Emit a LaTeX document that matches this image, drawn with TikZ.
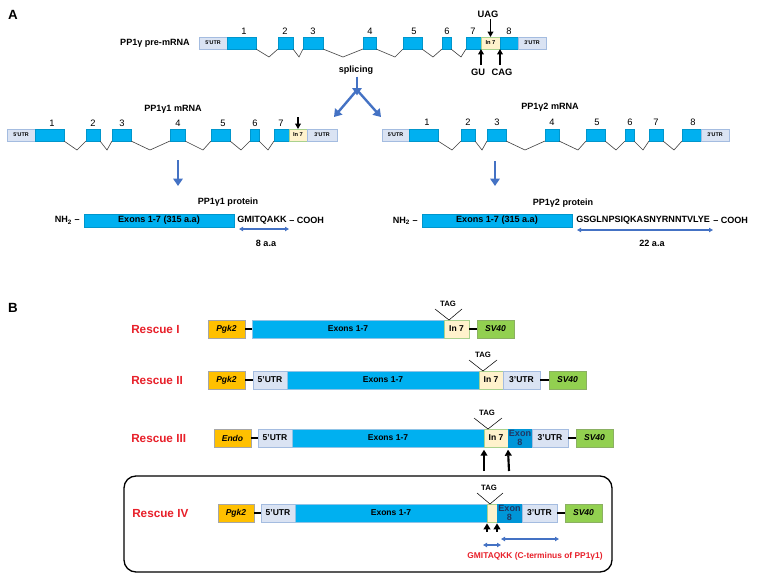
\documentclass[tikz,border=0pt]{standalone}
\usepackage{fontspec}
\setmainfont{Liberation Sans}
\usetikzlibrary{arrows.meta}
\definecolor{exblue}{HTML}{00B0F0}
\definecolor{exline}{HTML}{8FC3E6}
\definecolor{utrfill}{HTML}{DAE3F3}
\definecolor{utrline}{HTML}{A4BCE0}
\definecolor{infill}{HTML}{FFF2CC}
\definecolor{inline}{HTML}{A9D18E}
\definecolor{pgk}{HTML}{FFC000}
\definecolor{svg}{HTML}{92D050}
\definecolor{ex8}{HTML}{0096D8}
\definecolor{arrblue}{HTML}{4472C4}
\definecolor{resred}{HTML}{E8202A}
\definecolor{navy}{HTML}{1F3864}
\definecolor{intronc}{HTML}{404040}
\newcommand\bx[7]{\node[#2, minimum width={(#5-#3)*0.75pt}, minimum height={(#6-#4)*0.75pt}] (#1) at (#3,#4) {#7};}
\tikzset{
 box/.style={anchor=north west, inner sep=0pt, outer sep=0pt, align=center},
 exon/.style={box, fill=exblue, draw=exblue!85!black, line width=0.3pt},
 utr/.style={box, fill=utrfill, draw=utrline, line width=0.5pt, font=\fontsize{4}{4}\selectfont\bfseries},
 intr/.style={box, fill=infill, draw=inline, line width=0.5pt, font=\fontsize{4.3}{4.3}\selectfont\bfseries},
 num/.style={inner sep=0pt, font=\fontsize{7}{7}\selectfont},
 ttl/.style={inner sep=0pt, font=\fontsize{6.8}{8}\selectfont\bfseries},
 big/.style={inner sep=0pt, font=\fontsize{7}{8}\selectfont\bfseries},
 lett/.style={inner sep=0pt, font=\fontsize{10}{10}\selectfont\bfseries},
 intron/.style={draw=intronc, line width=0.45pt},
 blarrow/.style={draw=arrblue, line width=1.8pt, -{Triangle[width=7pt,length=5.5pt]}},
 karrow/.style={draw=black, line width=1.1pt, -{Triangle[width=4.2pt,length=4pt]}},
 dblarrow/.style={draw=arrblue, line width=0.8pt, {Triangle[width=3.2pt,length=3pt]}-{Triangle[width=3.2pt,length=3pt]}},
 prot/.style={box, fill=exblue, draw=exblue!85!black, line width=0.3pt, font=\fontsize{6.8}{8}\selectfont\bfseries},
 bbox/.style={box, line width=0.6pt, font=\fontsize{6.4}{7}\selectfont\bfseries},
 bexon/.style={bbox, fill=exblue, draw=exline},
 butr/.style={bbox, fill=utrfill, draw=utrline},
 bin/.style={bbox, fill=infill, draw=inline},
 bprom/.style={bbox, fill=pgk, draw=gray!70, font=\fontsize{6.4}{7}\selectfont\bfseries\itshape},
 bsv/.style={bbox, fill=svg, draw=svg!60!gray, font=\fontsize{6.4}{7}\selectfont\bfseries\itshape},
 bex8/.style={bbox, fill=ex8, draw=ex8, text=navy, font=\fontsize{6.8}{7}\selectfont\bfseries},
 link/.style={draw=black, line width=1.5pt},
 resc/.style={anchor=west, inner sep=0pt, text=resred, font=\fontsize{8.8}{9}\selectfont\bfseries},
 redtxt/.style={inner sep=0pt, text=resred, font=\fontsize{6.3}{7}\selectfont\bfseries},
 tag/.style={inner sep=0pt, font=\fontsize{5.8}{6}\selectfont\bfseries},
 tagv/.style={draw=black, line width=0.4pt},
 upar/.style={draw=black, line width=1.6pt, -{Triangle[width=5pt,length=4.5pt]}},
}
\begin{document}
\begin{tikzpicture}[x=0.75pt,y=-0.75pt]
\fill[white] (0,0) rectangle (758,582);
\useasboundingbox (0,0) rectangle (758,582);
% ---------------- A ----------------
\node[lett] (la) at (13,15) {A};
% pre-mRNA
\node[ttl, anchor=east] (pre) at (190,43) {PP1γ pre-mRNA};
\bx{pu5}{utr}{199}{37}{227}{49}{5'UTR}
\bx{p1}{exon}{227}{37}{256}{49}{}
\bx{p2}{exon}{278}{37}{293}{49}{}
\bx{p3}{exon}{303}{37}{323}{49}{}
\bx{p4}{exon}{363}{37}{376}{49}{}
\bx{p5}{exon}{403}{37}{422}{49}{}
\bx{p6}{exon}{442}{37}{451}{49}{}
\bx{p7}{exon}{466}{37}{481}{49}{}
\bx{pi7}{intr}{481}{37}{500}{49}{In 7}
\bx{p8}{exon}{500}{37}{518}{49}{}
\bx{pu3}{utr}{518}{37}{546}{49}{3'UTR}
\coordinate (pv1) at (269,57);
\coordinate (pv2) at (299,57);
\coordinate (pv3) at (343,57);
\coordinate (pv4) at (395,57);
\coordinate (pv5) at (433,57);
\coordinate (pv6) at (461,57);
\draw[intron] (p1.south east) -- (pv1) -- (p2.south west);
\draw[intron] (p2.south east) -- (pv2) -- (p3.south west);
\draw[intron] (p3.south east) -- (pv3) -- (p4.south west);
\draw[intron] (p4.south east) -- (pv4) -- (p5.south west);
\draw[intron] (p5.south east) -- (pv5) -- (p6.south west);
\draw[intron] (p6.south east) -- (pv6) -- (p7.south west);
\node[num] (pn1) at (244,31) {1};
\node[num] (pn2) at (285,31) {2};
\node[num] (pn3) at (313,31) {3};
\node[num] (pn4) at (370,31) {4};
\node[num] (pn5) at (414,31) {5};
\node[num] (pn6) at (447,31) {6};
\node[num] (pn7) at (473,31) {7};
\node[num] (pn8) at (509,31) {8};
\node[big] (uag) at (488,14) {UAG};
\draw[karrow] ([yshift=-1pt]uag.south -| pi7.north) -- (pi7.north);
\node[big] (gu) at (478,72) {GU};
\node[big] (cag) at (502,72) {CAG};
\draw[karrow] ([yshift=2.5pt]gu.north -| pi7.south west) -- (pi7.south west);
\draw[karrow] ([yshift=2.5pt]cag.north -| pi7.south east) -- (pi7.south east);
% splicing
\node[ttl] (spl) at (356,70) {splicing};
\coordinate (sj) at (357,90);
\coordinate (sl) at (334,117);
\coordinate (sr) at (381,117);
\draw[blarrow] ([yshift=-1.5pt]spl.south -| sj) -- ([yshift=-4pt]sj);
\draw[blarrow] (sj) -- (sl);
\draw[blarrow] (sj) -- (sr);
% PP1g1 mRNA
\node[ttl] (m1t) at (173,109) {PP1γ1 mRNA};
\bx{au5}{utr}{7}{129}{35}{141}{5'UTR}
\bx{a1}{exon}{35}{129}{64}{141}{}
\bx{a2}{exon}{86}{129}{100}{141}{}
\bx{a3}{exon}{112}{129}{131}{141}{}
\bx{a4}{exon}{170}{129}{185}{141}{}
\bx{a5}{exon}{211}{129}{230}{141}{}
\bx{a6}{exon}{250}{129}{259}{141}{}
\bx{a7}{exon}{274}{129}{289}{141}{}
\bx{ai7}{intr}{289}{129}{307}{141}{In 7}
\bx{au3}{utr}{307}{129}{337}{141}{3'UTR}
\coordinate (av1) at (77,150);
\coordinate (av2) at (107,150);
\coordinate (av3) at (150,150);
\coordinate (av4) at (203,150);
\coordinate (av5) at (241,150);
\coordinate (av6) at (268,150);
\draw[intron] (a1.south east) -- (av1) -- (a2.south west);
\draw[intron] (a2.south east) -- (av2) -- (a3.south west);
\draw[intron] (a3.south east) -- (av3) -- (a4.south west);
\draw[intron] (a4.south east) -- (av4) -- (a5.south west);
\draw[intron] (a5.south east) -- (av5) -- (a6.south west);
\draw[intron] (a6.south east) -- (av6) -- (a7.south west);
\node[num] (an1) at (52,123) {1};
\node[num] (an2) at (93,123) {2};
\node[num] (an3) at (122,123) {3};
\node[num] (an4) at (178,123) {4};
\node[num] (an5) at (223,123) {5};
\node[num] (an6) at (255,123) {6};
\node[num] (an7) at (281,123) {7};
\coordinate (ak) at (298,117);
\draw[karrow] (ak) -- (ai7.north);
% PP1g2 mRNA
\node[ttl] (m2t) at (550,107) {PP1γ2 mRNA};
\bx{bu5}{utr}{382}{129}{409}{141}{5'UTR}
\bx{c1}{exon}{409}{129}{438}{141}{}
\bx{c2}{exon}{461}{129}{475}{141}{}
\bx{c3}{exon}{487}{129}{506}{141}{}
\bx{c4}{exon}{545}{129}{559}{141}{}
\bx{c5}{exon}{586}{129}{605}{141}{}
\bx{c6}{exon}{625}{129}{634}{141}{}
\bx{c7}{exon}{649}{129}{663}{141}{}
\bx{c8}{exon}{682}{129}{701}{141}{}
\bx{bu3}{utr}{701}{129}{729}{141}{3'UTR}
\coordinate (cv1) at (452,150);
\coordinate (cv2) at (482,150);
\coordinate (cv3) at (525,150);
\coordinate (cv4) at (578,150);
\coordinate (cv5) at (616,150);
\coordinate (cv6) at (643,150);
\coordinate (cv7) at (674,150);
\draw[intron] (c1.south east) -- (cv1) -- (c2.south west);
\draw[intron] (c2.south east) -- (cv2) -- (c3.south west);
\draw[intron] (c3.south east) -- (cv3) -- (c4.south west);
\draw[intron] (c4.south east) -- (cv4) -- (c5.south west);
\draw[intron] (c5.south east) -- (cv5) -- (c6.south west);
\draw[intron] (c6.south east) -- (cv6) -- (c7.south west);
\draw[intron] (c7.south east) -- (cv7) -- (c8.south west);
\node[num] (cn1) at (427,122) {1};
\node[num] (cn2) at (468,122) {2};
\node[num] (cn3) at (497,122) {3};
\node[num] (cn4) at (552,122) {4};
\node[num] (cn5) at (597,122) {5};
\node[num] (cn6) at (630,122) {6};
\node[num] (cn7) at (656,122) {7};
\node[num] (cn8) at (693,122) {8};
% arrows to proteins
\coordinate (d1s) at (178,160);
\coordinate (d1e) at (178,186);
\coordinate (d2s) at (495,161);
\coordinate (d2e) at (495,186);
\draw[blarrow] (d1s) -- (d1e);
\draw[blarrow] (d2s) -- (d2e);
% protein 1
\node[ttl] (pr1t) at (228,202) {PP1γ1 protein};
\bx{pr1}{prot}{84}{214}{234}{227}{Exons 1-7 (315 a.a)}
\node[ttl, anchor=east] (nh1) at (80,220.5) {NH\textsubscript{2} –};
\node[ttl, anchor=west] (sq1) at (237,220) {GMITQAKK};
\node[ttl, anchor=west] (co1) at (289,220) {– COOH};
\coordinate (e1a) at (239,229);
\coordinate (e1b) at (289,229);
\draw[dblarrow] (e1a) -- (e1b);
\node[ttl] (aa1) at (266,243) {8 a.a};
% protein 2
\node[ttl] (pr2t) at (563,203) {PP1γ2 protein};
\bx{pr2}{prot}{422}{214}{572}{227}{Exons 1-7 (315 a.a)}
\node[ttl, anchor=east] (nh2) at (418,221) {NH\textsubscript{2} –};
\node[ttl, anchor=west] (sq2) at (576,220) {GSGLNPSIQKASNYRNNTVLYE};
\node[ttl, anchor=west] (co2) at (713,220) {– COOH};
\coordinate (e2a) at (577,230);
\coordinate (e2b) at (713,230);
\draw[dblarrow] (e2a) -- (e2b);
\node[ttl] (aa2) at (652,243) {22 a.a};
% ---------------- B ----------------
\node[lett] (lb) at (13,308) {B};
% Rescue I
\node[resc] (r1) at (131,330) {Rescue I};
\bx{b1p}{bprom}{208}{320}{245}{338}{Pgk2}
\bx{b1e}{bexon}{252}{320}{444}{338}{Exons 1-7}
\bx{b1i}{bin}{444}{320}{469}{338}{In 7}
\bx{b1s}{bsv}{477}{320}{514}{338}{SV40}
\draw[link] (b1p) -- (b1e);
\draw[link] (b1i) -- (b1s);
\node[tag] (t1) at (448,304) {TAG};
\coordinate (t1l) at (435,309);
\coordinate (t1a) at (449,320);
\coordinate (t1r) at (462,309);
\draw[tagv] (t1l) -- (t1a) -- (t1r);
% Rescue II
\node[resc] (r2) at (131,381) {Rescue II};
\bx{b2p}{bprom}{208}{371}{245}{389}{Pgk2}
\bx{b2u5}{butr}{253}{371}{287}{389}{5'UTR}
\bx{b2e}{bexon}{287}{371}{479}{389}{Exons 1-7}
\bx{b2i}{bin}{479}{371}{503}{389}{In 7}
\bx{b2u3}{butr}{503}{371}{540}{389}{3'UTR}
\bx{b2s}{bsv}{549}{371}{586}{389}{SV40}
\draw[link] (b2p) -- (b2u5);
\draw[link] (b2u3) -- (b2s);
\node[tag] (t2) at (483,355) {TAG};
\coordinate (t2l) at (469,360);
\coordinate (t2a) at (483,371);
\coordinate (t2r) at (497,360);
\draw[tagv] (t2l) -- (t2a) -- (t2r);
% Rescue III
\node[resc] (r3) at (131,439) {Rescue III};
\bx{b3p}{bprom}{214}{429}{251}{447}{Endo}
\bx{b3u5}{butr}{258}{429}{292}{447}{5'UTR}
\bx{b3e}{bexon}{292}{429}{484}{447}{Exons 1-7}
\bx{b3i}{bin}{484}{429}{508}{447}{In 7}
\bx{b3x}{bex8}{508}{429}{532}{447}{Exon\\8}
\bx{b3u3}{butr}{532}{429}{568}{447}{3'UTR}
\bx{b3s}{bsv}{576}{429}{613}{447}{SV40}
\draw[link] (b3p) -- (b3u5);
\draw[link] (b3u3) -- (b3s);
\node[tag] (t3) at (487,413) {TAG};
\coordinate (t3l) at (474,418);
\coordinate (t3a) at (488,429);
\coordinate (t3r) at (502,418);
\draw[tagv] (t3l) -- (t3a) -- (t3r);
\coordinate (u3a) at (484,471);
\coordinate (u3b) at (509,471);
\draw[upar] (u3a) -- ([yshift=-2pt]b3i.south west);
\draw[upar] (u3b) -- ([yshift=-2pt]b3i.south east);
% Rescue IV
\draw[line width=1pt, rounded corners=9pt] (124,476) rectangle (612,572);
\node[resc] (r4) at (132,514) {Rescue IV};
\bx{b4p}{bprom}{218}{504}{254}{522}{Pgk2}
\bx{b4u5}{butr}{261}{504}{295}{522}{5'UTR}
\bx{b4e}{bexon}{295}{504}{487}{522}{Exons 1-7}
\bx{b4i}{bin}{487}{504}{497}{522}{}
\bx{b4x}{bex8}{497}{504}{522}{522}{Exon\\8}
\bx{b4u3}{butr}{522}{504}{557}{522}{3'UTR}
\bx{b4s}{bsv}{565}{504}{602}{522}{SV40}
\draw[link] (b4p) -- (b4u5);
\draw[link] (b4u3) -- (b4s);
\node[tag] (t4) at (489,488) {TAG};
\coordinate (t4l) at (477,493);
\coordinate (t4a) at (490,504);
\coordinate (t4r) at (503,493);
\draw[tagv] (t4l) -- (t4a) -- (t4r);
\coordinate (u4a) at (487,532);
\coordinate (u4b) at (497,532);
\draw[upar] (u4a) -- ([yshift=-1pt]b4i.south west);
\draw[upar] (u4b) -- ([yshift=-1pt]b4i.south east);
\coordinate (g1) at (483,545);
\coordinate (g2) at (501,545);
\coordinate (g3) at (501,539);
\coordinate (g4) at (559,539);
\draw[dblarrow] (g1) -- (g2);
\draw[dblarrow] (g3) -- (g4);
\node[redtxt] (ct) at (535,556) {GMITAQKK (C-terminus of PP1γ1)};
\end{tikzpicture}
\end{document}
